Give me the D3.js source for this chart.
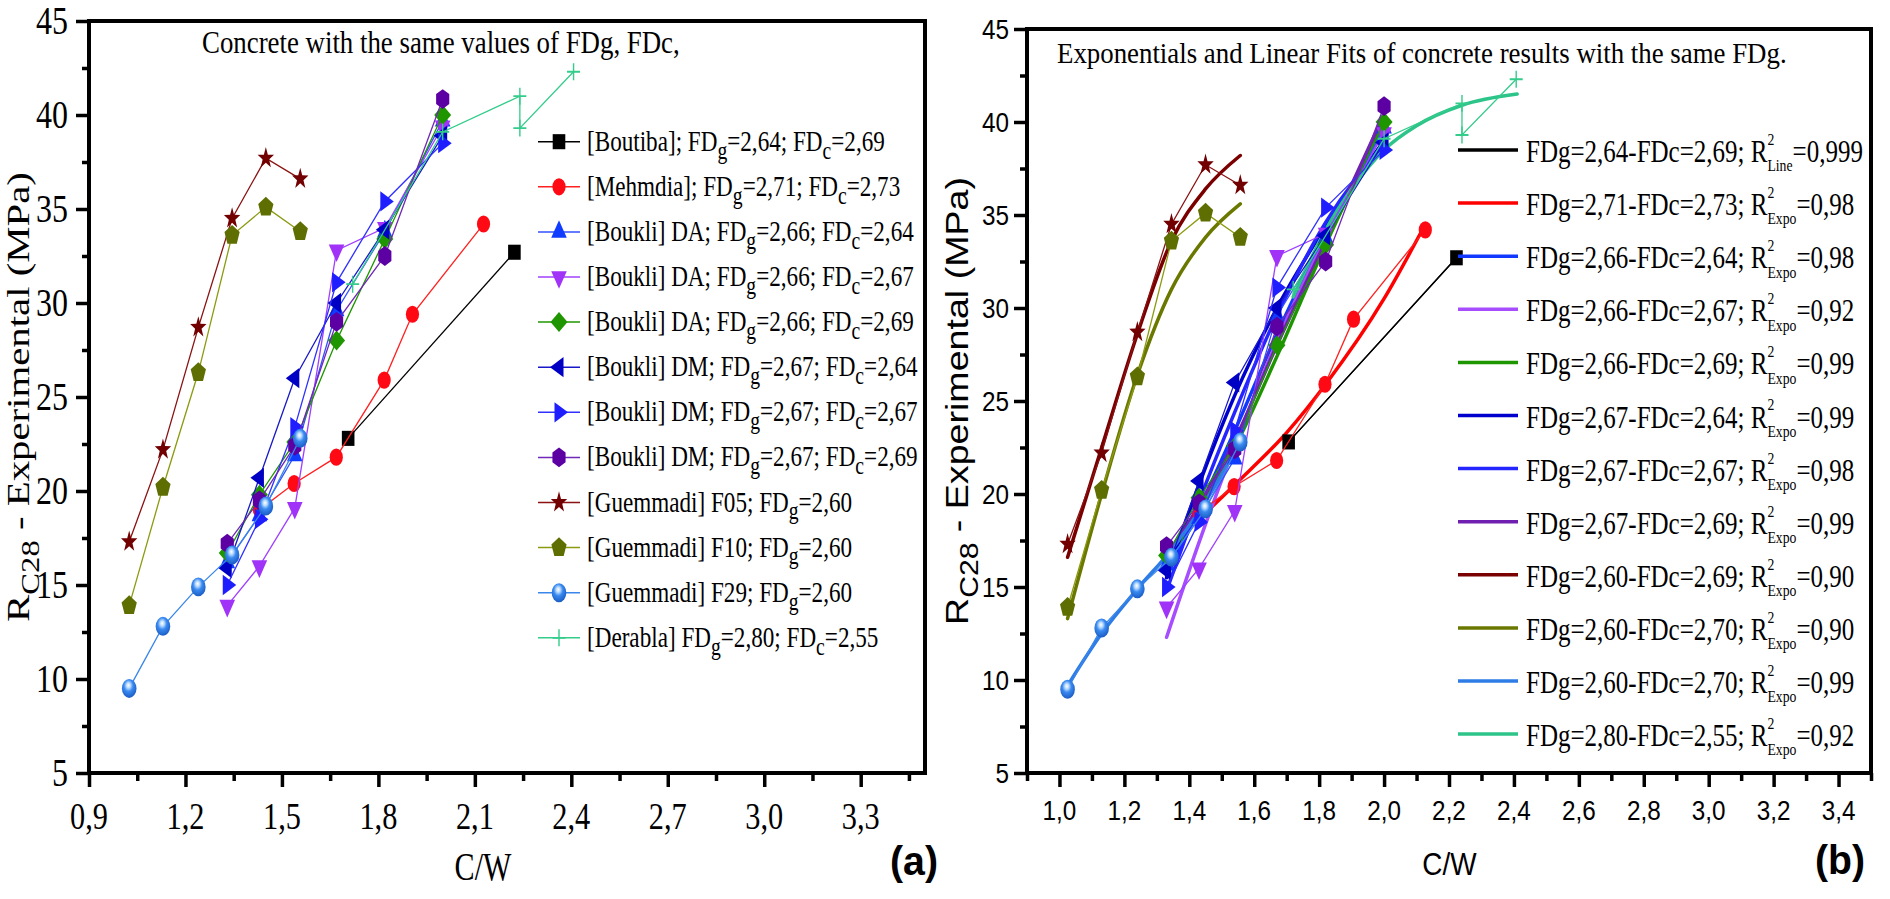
<!DOCTYPE html>
<html><head><meta charset="utf-8">
<script src="https://cdn.jsdelivr.net/npm/d3@7"></script>
<style>body{margin:0;background:#fff}svg{display:block}</style>
</head><body>
<svg id="c" width="1890" height="899"></svg>
<script>
// ---------------- DATA ----------------
const xBoutiba = [1.706, 2.223];
const yBoutiba = [22.8, 32.7];
const xMehmdia = [1.43, 1.538, 1.669, 1.818, 1.906, 2.127];
const yMehmdia = [19.0, 20.4, 21.8, 25.9, 29.4, 34.2];
const xBoukli = [1.33, 1.43, 1.54, 1.67, 1.82, 2.00];
const yDA264 = [16.2, 18.7, 21.9, 29.6, 33.8, 39.7];
const yDA267 = [13.9, 16.0, 19.1, 32.8, 34.0, 39.4];
const yDA269 = [16.7, 19.8, 22.6, 28.0, 33.4, 40.0];
const yDM264 = [15.9, 20.7, 26.0, 30.0, 33.9, 38.9];
const yDM267 = [15.0, 18.5, 23.4, 31.1, 35.4, 38.5];
const yDM269 = [17.2, 19.5, 22.4, 29.0, 32.5, 40.85];
const xGuem = [1.025, 1.13, 1.24, 1.345, 1.45, 1.557];
const yF05 = [17.3, 22.2, 28.7, 34.5, 37.7, 36.6];
const yF10 = [13.9, 20.2, 26.3, 33.6, 35.1, 33.8];
const yF29 = [9.5, 12.8, 14.9, 16.6, 19.2, 22.8];
const xDerabla = [1.72, 2.0, 2.24, 2.24, 2.407];
const yDerabla = [31.0, 39.1, 41.0, 39.3, 42.3];

// fitted curves
const fitXBlack = [1.706, 2.223],                fitYBlack = [22.8, 32.7];
const fitXRed = [1.427, 1.54, 1.70, 1.82, 2.0, 2.127], fitYRed = [18.6, 20.5, 23.3, 25.9, 30.5, 34.5];
const fitXBoukli = [1.33, 1.43, 1.54, 1.67, 1.82, 2.0];
const fitYDA264 = [15.6, 19.2, 23.4, 28.6, 34.0, 39.6];
const fitYDA267 = [12.3, 17.4, 22.6, 28.2, 33.8, 39.6];
const fitYDA269 = [16.4, 19.1, 22.5, 27.4, 33.4, 40.0];
const fitYDM264 = [15.5, 20.5, 25.3, 30.0, 34.4, 39.0];
const fitYDM267 = [14.8, 19.6, 24.4, 29.6, 34.6, 38.8];
const fitYDM269 = [16.6, 19.4, 22.9, 28.0, 33.6, 40.4];
const fitXGuem = [1.025, 1.13, 1.24, 1.345, 1.45, 1.557];
const fitYF05 = [16.6, 22.5, 28.6, 33.6, 36.4, 38.2];
const fitYF10 = [13.3, 20.0, 26.4, 31.0, 33.8, 35.6];
const fitYF29 = [9.7, 12.5, 14.9, 17.0, 19.6, 22.8];
const fitXTeal = [1.72, 1.82, 1.90, 2.0, 2.1, 2.24, 2.41];
const fitYTeal = [30.6, 34.2, 36.4, 38.5, 39.8, 40.9, 41.5];

// ticks
const xTicksA = [0.9, 1.2, 1.5, 1.8, 2.1, 2.4, 2.7, 3.0, 3.3];
const xMinorA = [1.05, 1.35, 1.65, 1.95, 2.25, 2.55, 2.85, 3.15, 3.45];
const xTicksB = [1.0, 1.2, 1.4, 1.6, 1.8, 2.0, 2.2, 2.4, 2.6, 2.8, 3.0, 3.2, 3.4];
const xMinorB = [0.9, 1.1, 1.3, 1.5, 1.7, 1.9, 2.1, 2.3, 2.5, 2.7, 2.9, 3.1, 3.3, 3.5];
const yTicks = [5, 10, 15, 20, 25, 30, 35, 40, 45];
const yMinor = [7.5, 12.5, 17.5, 22.5, 27.5, 32.5, 37.5, 42.5];

// texts
const titleA = "Concrete with the same values of FDg, FDc,";
const titleB = "Exponentials and Linear Fits of concrete results with the same FDg.";
const legendA = [
  "[Boutiba]; FD_{g}=2,64; FD_{c}=2,69",
  "[Mehmdia]; FD_{g}=2,71; FD_{c}=2,73",
  "[Boukli] DA; FD_{g}=2,66; FD_{c}=2,64",
  "[Boukli] DA; FD_{g}=2,66; FD_{c}=2,67",
  "[Boukli] DA; FD_{g}=2,66; FD_{c}=2,69",
  "[Boukli] DM; FD_{g}=2,67; FD_{c}=2,64",
  "[Boukli] DM; FD_{g}=2,67; FD_{c}=2,67",
  "[Boukli] DM; FD_{g}=2,67; FD_{c}=2,69",
  "[Guemmadi] F05; FD_{g}=2,60",
  "[Guemmadi] F10; FD_{g}=2,60",
  "[Guemmadi] F29; FD_{g}=2,60",
  "[Derabla] FD_{g}=2,80; FD_{c}=2,55"
];
const legendB = [
  "FDg=2,64-FDc=2,69; R^{2}_{Line}=0,999",
  "FDg=2,71-FDc=2,73; R^{2}_{Expo}=0,98",
  "FDg=2,66-FDc=2,64; R^{2}_{Expo}=0,98",
  "FDg=2,66-FDc=2,67; R^{2}_{Expo}=0,92",
  "FDg=2,66-FDc=2,69; R^{2}_{Expo}=0,99",
  "FDg=2,67-FDc=2,64; R^{2}_{Expo}=0,99",
  "FDg=2,67-FDc=2,67; R^{2}_{Expo}=0,98",
  "FDg=2,67-FDc=2,69; R^{2}_{Expo}=0,99",
  "FDg=2,60-FDc=2,69; R^{2}_{Expo}=0,90",
  "FDg=2,60-FDc=2,70; R^{2}_{Expo}=0,90",
  "FDg=2,60-FDc=2,70; R^{2}_{Expo}=0,99",
  "FDg=2,80-FDc=2,55; R^{2}_{Expo}=0,92"
];

// ---------------- STYLES ----------------
const SERIF = "'Liberation Serif','Times New Roman',serif";
const SANS = "'Liberation Sans',Arial,sans-serif";
const KY = 1.3;

const series = [
  {xs: xBoutiba, ys: yBoutiba, shape: "square",  mc: "#000000", lc: "#000000"},
  {xs: xMehmdia, ys: yMehmdia, shape: "circle",  mc: "#FF0A14", lc: "#FF2020"},
  {xs: xBoukli,  ys: yDA264,   shape: "up",      mc: "#0F3CFF", lc: "#3050FF"},
  {xs: xBoukli,  ys: yDA267,   shape: "down",    mc: "#A033F7", lc: "#A040FF"},
  {xs: xBoukli,  ys: yDA269,   shape: "diamond", mc: "#1F9600", lc: "#1F9600"},
  {xs: xBoukli,  ys: yDM264,   shape: "left",    mc: "#0000C4", lc: "#1818C8"},
  {xs: xBoukli,  ys: yDM267,   shape: "right",   mc: "#1E1EFF", lc: "#3030FF"},
  {xs: xBoukli,  ys: yDM269,   shape: "hexagon", mc: "#5C00A3", lc: "#7028B8"},
  {xs: xGuem,    ys: yF05,     shape: "star",    mc: "#720000", lc: "#8A1212"},
  {xs: xGuem,    ys: yF10,     shape: "pentagon",mc: "#5E6E00", lc: "#8C9A10"},
  {xs: xGuem,    ys: yF29,     shape: "sphere",  mc: "#2A78E0", lc: "#3A86EA"},
  {xs: xDerabla, ys: yDerabla, shape: "plus",    mc: "#33CC8A", lc: "#33CC8A"}
];
const fits = [
  {xs: fitXBlack,  ys: fitYBlack,  c: "#000000", w: 1.3},
  {xs: fitXRed,    ys: fitYRed,    c: "#FF0000", w: 3.5},
  {xs: fitXBoukli, ys: fitYDA264,  c: "#1038FF", w: 3.5},
  {xs: fitXBoukli, ys: fitYDA267,  c: "#A64DFF", w: 3.5},
  {xs: fitXBoukli, ys: fitYDA269,  c: "#1E9600", w: 3.5},
  {xs: fitXBoukli, ys: fitYDM264,  c: "#0000CC", w: 3.5},
  {xs: fitXBoukli, ys: fitYDM267,  c: "#2525FF", w: 3.5},
  {xs: fitXBoukli, ys: fitYDM269,  c: "#7020B0", w: 3.5},
  {xs: fitXGuem,   ys: fitYF05,    c: "#7A0000", w: 3.5},
  {xs: fitXGuem,   ys: fitYF10,    c: "#6B7800", w: 3.5},
  {xs: fitXGuem,   ys: fitYF29,    c: "#2E7DE6", w: 3.5},
  {xs: fitXTeal,   ys: fitYTeal,   c: "#2DC48A", w: 3.5}
];

// ---------------- HELPERS ----------------
const svg = d3.select("#c");
const defs = svg.append("defs");
const gr = defs.append("radialGradient").attr("id", "sph").attr("cx", 0.45).attr("cy", 0.38).attr("r", 0.62).attr("fx", 0.45).attr("fy", 0.33);
gr.append("stop").attr("offset", "0%").attr("stop-color", "#ffffff");
gr.append("stop").attr("offset", "22%").attr("stop-color", "#bcdcff");
gr.append("stop").attr("offset", "50%").attr("stop-color", "#3a8af0");
gr.append("stop").attr("offset", "100%").attr("stop-color", "#1a5cc4");

const polyType = pts => ({draw(ctx) { ctx.moveTo(pts[0][0], pts[0][1]); for (let i = 1; i < pts.length; i++) ctx.lineTo(pts[i][0], pts[i][1]); ctx.closePath(); }});
const reg = (n, R, rot) => d3.range(n).map(i => { const a = rot + 2 * Math.PI * i / n; return [R * Math.sin(a), -R * Math.cos(a)]; });
const starPts = d3.range(10).map(i => { const a = Math.PI * i / 5; const R = i % 2 ? 3.4 : 8.6; return [R * Math.sin(a), -R * Math.cos(a)]; });
const SH = {
  square: polyType([[-6.3, -5.8], [6.3, -5.8], [6.3, 5.8], [-6.3, 5.8]]),
  circle: {draw(ctx) { ctx.moveTo(6.6, 0); ctx.arc(0, 0, 6.6, 0, 2 * Math.PI); }},
  up: polyType(reg(3, 9, 0)),
  down: polyType(reg(3, 9, Math.PI)),
  left: polyType(reg(3, 9, -Math.PI / 2)),
  right: polyType(reg(3, 9, Math.PI / 2)),
  diamond: polyType([[0, -7.7], [8.5, 0], [0, 7.7], [-8.5, 0]]),
  hexagon: polyType(reg(6, 7.6, 0)),
  star: polyType(starPts),
  pentagon: polyType(reg(5, 8, 0)),
  sphere: {draw(ctx) { ctx.moveTo(7.3, 0); ctx.arc(0, 0, 7.3, 0, 2 * Math.PI); }},
  plus: {draw(ctx) { ctx.moveTo(-6.5, 0); ctx.lineTo(6.5, 0); ctx.moveTo(0, -6.5); ctx.lineTo(0, 6.5); }}
};
function marker(g, shape, color, px, py) {
  const p = g.append("path").attr("d", d3.symbol().type(SH[shape])())
    .attr("transform", `translate(${px},${py}) scale(1,${KY})`);
  if (shape === "plus") p.attr("fill", "none").attr("stroke", color).attr("stroke-width", 1.4);
  else if (shape === "sphere") p.attr("fill", "url(#sph)");
  else p.attr("fill", color);
}

// rich text: _{..} subscript, ^{..} superscript (a following subscript is stacked under it)
function txt(parent, x, y, str, o) {
  const g = parent.append("g").attr("transform", `translate(${x},${y})` + (o.rot ? " rotate(-90)" : ""));
  const t = g.append("text").attr("font-family", o.ff).attr("font-size", o.fs)
    .attr("font-weight", o.fw || "normal").attr("text-anchor", o.anchor || "start").attr("fill", "#000");
  const toks = str.split(/(_\{[^}]*\}|\^\{[^}]*\})/).filter(s => s.length);
  let off = 0, lastSupW = 0, prevSup = false;
  const ss = o.fs * (o.subScale || 0.8), subOff = o.fs * (o.subOff || 0.28), supOff = -o.fs * (o.supOff || 0.5);
  toks.forEach(tk => {
    if (tk.startsWith("_{")) {
      const ts = t.append("tspan").text(tk.slice(2, -1)).attr("font-size", ss).attr("dy", subOff - off);
      if (prevSup) ts.attr("dx", -lastSupW);
      off = subOff; prevSup = false;
    } else if (tk.startsWith("^{")) {
      const ts = t.append("tspan").text(tk.slice(2, -1)).attr("font-size", o.supSize || ss).attr("dy", supOff - off);
      lastSupW = ts.node().getComputedTextLength();
      off = supOff; prevSup = true;
    } else {
      t.append("tspan").text(tk).attr("font-size", o.fs).attr("dy", -off);
      off = 0; prevSup = false;
    }
  });
  let sx = o.sx || 1;
  if (o.w) sx = o.w / t.node().getBBox().width;
  t.attr("transform", `scale(${sx},1)`);
  return sx;
}

// ---------------- PANELS ----------------
function panel(cfg) {
  const {x, y, xt, xm, tickFont, tickFs, tickSx, xLabDy, yLabDx, yLabDy} = cfg;
  const g = svg.append("g");
  const [x0, x1] = x.range(), [y1, y0] = y.range();
  const fmt = v => d3.format(".1f")(v).replace(".", ",");

  const ax = (gen, vals, size, tr) => {
    const a = g.append("g").attr("transform", tr).call(gen.tickValues(vals).tickSize(size).tickSizeOuter(0).tickFormat(""));
    a.select(".domain").remove();
    a.selectAll("line").attr("stroke", "#000").attr("stroke-width", 3.5);
  };
  ax(d3.axisBottom(x), xt, 14, `translate(0,${y1})`);
  ax(d3.axisBottom(x), xm, 8, `translate(0,${y1})`);
  ax(d3.axisLeft(y), yTicks, 13, `translate(${x0},0)`);
  ax(d3.axisLeft(y), yMinor, 7, `translate(${x0},0)`);
  g.append("rect").attr("x", x0).attr("y", y0).attr("width", x1 - x0).attr("height", y1 - y0)
    .attr("fill", "none").attr("stroke", "#000").attr("stroke-width", 4);

  xt.forEach(v => txt(g, x(v), y1 + xLabDy, fmt(v), {ff: tickFont, fs: tickFs, anchor: "middle", sx: tickSx}));
  yTicks.forEach(v => txt(g, x0 + yLabDx, y(v) + yLabDy, String(v), {ff: tickFont, fs: cfg.yTickFs || tickFs, anchor: "end", sx: tickSx}));

  const data = g.append("g");
  if (cfg.fits) {
    fits.forEach(f => {
      data.append("path").datum(f.xs.map((v, i) => [v, f.ys[i]]))
        .attr("d", d3.line().x(d => x(d[0])).y(d => y(d[1])).curve(d3.curveMonotoneX))
        .attr("fill", "none").attr("stroke", f.c).attr("stroke-width", f.w).attr("stroke-linecap", "round");
    });
  }
  series.forEach(s => {
    const pts = s.xs.map((v, i) => [v, s.ys[i]]);
    data.append("path").datum(pts).attr("d", d3.line().x(d => x(d[0])).y(d => y(d[1])))
      .attr("fill", "none").attr("stroke", s.lc).attr("stroke-width", 1.3);
    pts.forEach(d => marker(data, s.shape, s.mc, x(d[0]), y(d[1])));
  });
  return g;
}

const xA = d3.scaleLinear().domain([0.9, 3.5]).range([89, 925]);
const yA = d3.scaleLinear().domain([5, 45]).range([773, 21]);
const xB = d3.scaleLinear().domain([0.9, 3.5]).range([1027, 1871]);
const yB = d3.scaleLinear().domain([5, 45]).range([773, 29]);

const gA = panel({x: xA, y: yA, xt: xTicksA, xm: xMinorA, tickFont: SERIF, tickFs: 37, yTickFs: 39, tickSx: 0.82, xLabDy: 56, yLabDx: -21, yLabDy: 13, fits: false});
const gB = panel({x: xB, y: yB, xt: xTicksB, xm: xMinorB, tickFont: SANS, tickFs: 27, tickSx: 0.9, xLabDy: 47, yLabDx: -18, yLabDy: 10, fits: true});

// titles
txt(gA, 202, 53, titleA, {ff: SERIF, fs: 31, w: 478});
txt(gB, 1057, 63, titleB, {ff: SERIF, fs: 30, w: 730});

// axis titles
txt(gA, 29, 397, "R_{C28} - Experimental (MPa)", {ff: SERIF, fs: 31, rot: true, anchor: "middle", w: 450, subScale: 0.8, subOff: 0.33});
txt(gB, 968, 401, "R_{C28} - Experimental (MPa)", {ff: SANS, fs: 32, rot: true, anchor: "middle", w: 448, subScale: 0.8, subOff: 0.3});
txt(gA, 483, 880, "C/W", {ff: SERIF, fs: 40, anchor: "middle", w: 57});
txt(gB, 1449.5, 875, "C/W", {ff: SANS, fs: 32, anchor: "middle", w: 55});
txt(gA, 890, 875, "(a)", {ff: SANS, fs: 40, fw: "bold", w: 48});
txt(gB, 1815, 874, "(b)", {ff: SANS, fs: 40, fw: "bold", w: 50});

// legend (a)
const legA = gA.append("g");
let sxA = null;
legendA.forEach((lab, i) => {
  const cy = 141.7 + i * 45.1;
  const s = series[i];
  legA.append("line").attr("x1", 538).attr("x2", 580).attr("y1", cy).attr("y2", cy).attr("stroke", s.lc).attr("stroke-width", 1.5);
  marker(legA, s.shape, s.mc, 559, cy);
  const o = {ff: SERIF, fs: 29, subScale: 0.85, subOff: 0.27};
  if (sxA === null) { o.w = 298; sxA = txt(legA, 587, cy + 9, lab, o); }
  else { o.sx = sxA; txt(legA, 587, cy + 9, lab, o); }
});

// legend (b)
const legB = gB.append("g");
let sxB = null;
legendB.forEach((lab, i) => {
  const cy = 150 + i * 53.1;
  legB.append("line").attr("x1", 1458).attr("x2", 1518).attr("y1", cy).attr("y2", cy).attr("stroke", fits[i].c).attr("stroke-width", 3.5);
  const o = {ff: SERIF, fs: 31, subScale: 0.55, subOff: 0.3, supOff: 0.55, supSize: 31 * 0.55};
  if (sxB === null) { o.w = 337; sxB = txt(legB, 1526, cy + 12, lab, o); }
  else { o.sx = sxB; txt(legB, 1526, cy + 12, lab, o); }
});
</script>
</body></html>
